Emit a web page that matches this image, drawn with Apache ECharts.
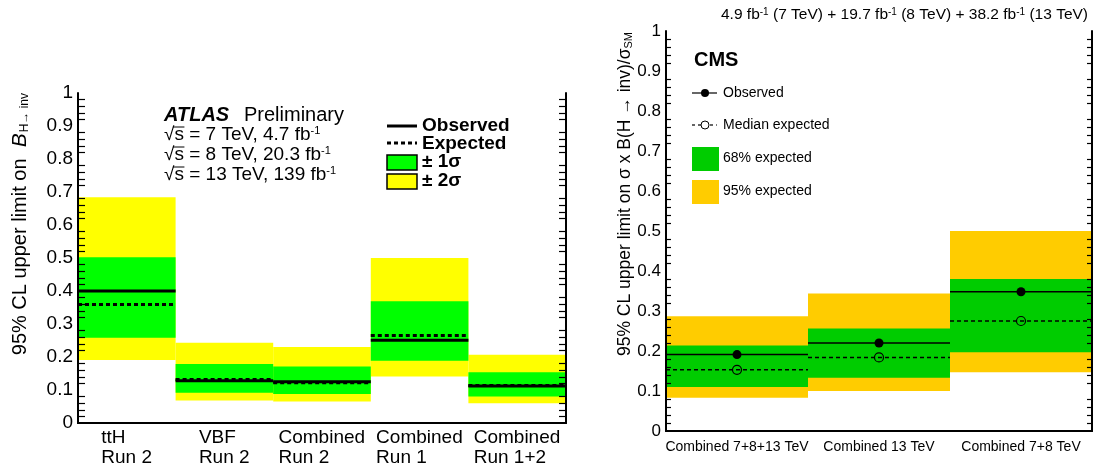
<!DOCTYPE html>
<html>
<head>
<meta charset="utf-8">
<script src="https://cdn.jsdelivr.net/npm/echarts@6/dist/echarts.min.js"></script>
<style>
  html, body { margin: 0; padding: 0; background: #fff; }
  #chart { width: 1094px; height: 470px; }
</style>
</head>
<body>
<div id="chart"></div>
<script>
// ATLAS panel (left)
var atlasCats = ['ttH\nRun 2', 'VBF\nRun 2', 'Combined\nRun 2', 'Combined\nRun 1', 'Combined\nRun 1+2'];
var atlasObs = [0.400, 0.128, 0.125, 0.251, 0.112];
var atlasExp = [0.359, 0.132, 0.122, 0.265, 0.114];
var atlas1sLo = [0.258, 0.092, 0.088, 0.189, 0.080];
var atlas1sHi = [0.502, 0.179, 0.171, 0.369, 0.154];
var atlas2sLo = [0.191, 0.068, 0.065, 0.141, 0.060];
var atlas2sHi = [0.684, 0.243, 0.230, 0.500, 0.207];

// CMS panel (right)
var cmsCats = ['Combined 7+8+13 TeV', 'Combined 13 TeV', 'Combined 7+8 TeV'];
var cmsObs = [0.191, 0.220, 0.348];
var cmsExp = [0.153, 0.184, 0.275];
var cms1sLo = [0.110, 0.133, 0.197];
var cms1sHi = [0.214, 0.256, 0.380];
var cms2sLo = [0.083, 0.100, 0.147];
var cms2sHi = [0.287, 0.344, 0.500];

var FONT = '"Liberation Sans", Arial, Helvetica, sans-serif';

function bands(lo, hi) {
  return lo.map(function (v, i) { return [i, v, hi[i]]; });
}
function points(vals) {
  return vals.map(function (v, i) { return [i, v]; });
}

// rectangle spanning the whole bin
function renderBand(params, api) {
  var x = api.value(0);
  var lo = api.coord([x, api.value(1)]);
  var hi = api.coord([x, api.value(2)]);
  var w = api.size([1, 0])[0];
  return {
    type: 'rect',
    shape: { x: lo[0] - w / 2, y: hi[1], width: w, height: lo[1] - hi[1] },
    style: { fill: api.visual('color') }
  };
}

// horizontal line across the bin, optional marker in the middle
function lineRenderer(width, dash, marker) {
  return function (params, api) {
    var p = api.coord([api.value(0), api.value(1)]);
    var w = api.size([1, 0])[0];
    var kids = [{
      type: 'line',
      shape: { x1: p[0] - w / 2, y1: p[1], x2: p[0] + w / 2, y2: p[1] },
      style: { stroke: '#000', lineWidth: width, lineDash: dash }
    }];
    if (marker === 'filled') {
      kids.push({ type: 'circle', shape: { cx: p[0], cy: p[1], r: 4.5 }, style: { fill: '#000' } });
    } else if (marker === 'open') {
      kids.push({ type: 'circle', shape: { cx: p[0], cy: p[1], r: 4.5 }, style: { fill: 'none', stroke: '#000', lineWidth: 1.2 } });
    }
    return { type: 'group', children: kids };
  };
}

// left-align lines inside each ATLAS label block
var ctx = document.createElement('canvas').getContext('2d');
ctx.font = '19px ' + FONT;
var atlasRich = {};
atlasCats.forEach(function (c, i) {
  var w = Math.max.apply(null, c.split('\n').map(function (l) { return ctx.measureText(l).width; }));
  atlasRich['c' + i] = { width: Math.ceil(w), align: 'left', fontSize: 19, lineHeight: 20, fontFamily: FONT, color: '#000' };
});
// overline for the sqrt sign
var sqrtW = ctx.measureText('\u221A').width;
var sW = ctx.measureText('s').width;

function yAxisCfg(grid, pos, showLabel, majorLen, minorLen, fs) {
  return {
    gridIndex: grid, type: 'value', position: pos, min: 0, max: 1, interval: 0.1, z: 10,
    axisLine: { show: true, lineStyle: { color: '#000', width: 2 } },
    axisTick: { inside: true, length: majorLen, lineStyle: { color: '#000', width: 1.5 } },
    minorTick: { show: true, splitNumber: 5, length: minorLen, lineStyle: { color: '#000', width: 1.2 } },
    axisLabel: { show: showLabel, fontSize: fs, fontFamily: FONT, color: '#000', margin: 5 },
    splitLine: { show: false }
  };
}

var sqrtLines = [135, 155, 175].map(function (y) {
  return { type: 'line', z: 10, shape: { x1: 164 + sqrtW - 1.5, y1: y - 8, x2: 164 + sqrtW + sW + 0.5, y2: y - 8 },
    style: { stroke: '#000', lineWidth: 1 } };
});

var option = {
  animation: false,
  grid: [
    { left: 78, top: 93, width: 488, height: 330 },
    { left: 666, top: 31, width: 426, height: 400 }
  ],
  xAxis: [
    {
      gridIndex: 0, type: 'category', data: atlasCats, position: 'bottom', z: 10,
      axisLine: { lineStyle: { color: '#000', width: 2 } },
      axisTick: { inside: true, length: 9, lineStyle: { color: '#000', width: 1.5 } },
      axisLabel: {
        interval: 0, margin: 5, color: '#000',
        formatter: function (v, i) {
          return v.split('\n').map(function (l) { return '{c' + i + '|' + l + '}'; }).join('\n');
        },
        rich: atlasRich
      }
    },
    {
      gridIndex: 0, type: 'category', data: atlasCats, position: 'top', z: 10,
      axisLine: { lineStyle: { color: '#000', width: 2 } },
      axisTick: { inside: true, length: 9, lineStyle: { color: '#000', width: 1.5 } },
      axisLabel: { show: false }
    },
    {
      gridIndex: 1, type: 'category', data: cmsCats, position: 'bottom', z: 10,
      axisLine: { lineStyle: { color: '#000', width: 2 } },
      axisTick: { inside: true, length: 10, lineStyle: { color: '#000', width: 1.5 } },
      axisLabel: { interval: 0, margin: 9, fontSize: 14, fontFamily: FONT, color: '#000' }
    },
    {
      gridIndex: 1, type: 'category', data: cmsCats, position: 'top', z: 10,
      axisLine: { lineStyle: { color: '#000', width: 2 } },
      axisTick: { inside: true, length: 10, lineStyle: { color: '#000', width: 1.5 } },
      axisLabel: { show: false }
    }
  ],
  yAxis: [
    yAxisCfg(0, 'left', true, 13, 7, 19),
    yAxisCfg(0, 'right', false, 13, 7, 19),
    yAxisCfg(1, 'left', true, 10, 5, 17),
    yAxisCfg(1, 'right', false, 10, 5, 17)
  ],
  series: [
    { type: 'custom', xAxisIndex: 0, yAxisIndex: 0, renderItem: renderBand, itemStyle: { color: '#ffff00' },
      encode: { x: 0, y: [1, 2] }, data: bands(atlas2sLo, atlas2sHi), z: 1 },
    { type: 'custom', xAxisIndex: 0, yAxisIndex: 0, renderItem: renderBand, itemStyle: { color: '#00ff00' },
      encode: { x: 0, y: [1, 2] }, data: bands(atlas1sLo, atlas1sHi), z: 2 },
    { type: 'custom', xAxisIndex: 0, yAxisIndex: 0, renderItem: lineRenderer(3, [4, 3]),
      encode: { x: 0, y: 1 }, data: points(atlasExp), z: 3 },
    { type: 'custom', xAxisIndex: 0, yAxisIndex: 0, renderItem: lineRenderer(3, null),
      encode: { x: 0, y: 1 }, data: points(atlasObs), z: 4 },

    { type: 'custom', xAxisIndex: 2, yAxisIndex: 2, renderItem: renderBand, itemStyle: { color: '#ffcc00' },
      encode: { x: 0, y: [1, 2] }, data: bands(cms2sLo, cms2sHi), z: 1 },
    { type: 'custom', xAxisIndex: 2, yAxisIndex: 2, renderItem: renderBand, itemStyle: { color: '#00cc00' },
      encode: { x: 0, y: [1, 2] }, data: bands(cms1sLo, cms1sHi), z: 2 },
    { type: 'custom', xAxisIndex: 2, yAxisIndex: 2, renderItem: lineRenderer(1.5, [4, 3], 'open'),
      encode: { x: 0, y: 1 }, data: points(cmsExp), z: 3 },
    { type: 'custom', xAxisIndex: 2, yAxisIndex: 2, renderItem: lineRenderer(1.5, null, 'filled'),
      encode: { x: 0, y: 1 }, data: points(cmsObs), z: 4 }
  ],
  graphic: sqrtLines.concat([
    // ---- left y title
    { type: 'text', x: 20, y: 93, rotation: Math.PI / 2, z: 10,
      style: { text: '95% CL upper limit on  {b|B}{s|H\u2192 inv}', align: 'right', verticalAlign: 'middle',
        font: '20px ' + FONT, fill: '#000',
        rich: { b: { fontSize: 21, fontStyle: 'italic', fontFamily: FONT }, s: { fontSize: 12, verticalAlign: 'bottom', fontFamily: FONT, padding: [9, 0, 0, 1] } } } },
    // ---- ATLAS label
    { type: 'text', x: 164, y: 115, z: 10, style: { text: 'ATLAS', font: 'italic bold 20px ' + FONT, fill: '#000', verticalAlign: 'middle' } },
    { type: 'text', x: 244, y: 115, z: 10, style: { text: 'Preliminary', font: '20px ' + FONT, fill: '#000', verticalAlign: 'middle' } },
    { type: 'text', x: 164, y: 135, z: 10, style: { text: '\u221As = 7 TeV, 4.7 fb{u|-1}', font: '19px ' + FONT, fill: '#000', verticalAlign: 'middle',
      rich: { u: { fontSize: 11, verticalAlign: 'top', fontFamily: FONT } } } },
    { type: 'text', x: 164, y: 155, z: 10, style: { text: '\u221As = 8 TeV, 20.3 fb{u|-1}', font: '19px ' + FONT, fill: '#000', verticalAlign: 'middle',
      rich: { u: { fontSize: 11, verticalAlign: 'top', fontFamily: FONT } } } },
    { type: 'text', x: 164, y: 175, z: 10, style: { text: '\u221As = 13 TeV, 139 fb{u|-1}', font: '19px ' + FONT, fill: '#000', verticalAlign: 'middle',
      rich: { u: { fontSize: 11, verticalAlign: 'top', fontFamily: FONT } } } },
    // ---- ATLAS legend
    { type: 'line', z: 10, shape: { x1: 387, y1: 126, x2: 417, y2: 126 }, style: { stroke: '#000', lineWidth: 3 } },
    { type: 'line', z: 10, shape: { x1: 387, y1: 143, x2: 417, y2: 143 }, style: { stroke: '#000', lineWidth: 3, lineDash: [4, 3] } },
    { type: 'rect', z: 10, shape: { x: 387, y: 155, width: 30, height: 15 }, style: { fill: '#00ff00', stroke: '#000', lineWidth: 1.5 } },
    { type: 'rect', z: 10, shape: { x: 387, y: 174, width: 30, height: 15 }, style: { fill: '#ffff00', stroke: '#000', lineWidth: 1.5 } },
    { type: 'text', x: 422, y: 126, z: 10, style: { text: 'Observed', font: 'bold 19px ' + FONT, fill: '#000', verticalAlign: 'middle' } },
    { type: 'text', x: 422, y: 144, z: 10, style: { text: 'Expected', font: 'bold 19px ' + FONT, fill: '#000', verticalAlign: 'middle' } },
    { type: 'text', x: 422, y: 162, z: 10, style: { text: '\u00B1 1\u03C3', font: 'bold 19px ' + FONT, fill: '#000', verticalAlign: 'middle' } },
    { type: 'text', x: 422, y: 181, z: 10, style: { text: '\u00B1 2\u03C3', font: 'bold 19px ' + FONT, fill: '#000', verticalAlign: 'middle' } },

    // ---- right title (lumi)
    { type: 'text', x: 1088, y: 15, z: 10,
      style: { text: '4.9 fb{u|-1} (7 TeV) + 19.7 fb{u|-1} (8 TeV) + 38.2 fb{u|-1} (13 TeV)', align: 'right', verticalAlign: 'middle',
        font: '15.5px ' + FONT, fill: '#000', rich: { u: { fontSize: 10, verticalAlign: 'top', fontFamily: FONT } } } },
    // ---- right y title
    { type: 'text', x: 625, y: 32, rotation: Math.PI / 2, z: 10,
      style: { text: '95% CL upper limit on \u03C3 x B(H \u2192 inv)/\u03C3{s|SM}', align: 'right', verticalAlign: 'middle',
        font: '17.5px ' + FONT, fill: '#000', rich: { s: { fontSize: 11, verticalAlign: 'bottom', fontFamily: FONT, padding: [7, 0, 0, 0] } } } },
    // ---- CMS label + legend
    { type: 'text', x: 694, y: 60, z: 10, style: { text: 'CMS', font: 'bold 20px ' + FONT, fill: '#000', verticalAlign: 'middle' } },
    { type: 'line', z: 10, shape: { x1: 692, y1: 93, x2: 717, y2: 93 }, style: { stroke: '#000', lineWidth: 1.2 } },
    { type: 'circle', z: 10, shape: { cx: 705, cy: 93, r: 4 }, style: { fill: '#000' } },
    { type: 'line', z: 10, shape: { x1: 692, y1: 125, x2: 717, y2: 125 }, style: { stroke: '#000', lineWidth: 1.2, lineDash: [3, 3] } },
    { type: 'circle', z: 11, shape: { cx: 705, cy: 125, r: 4 }, style: { fill: '#fff', stroke: '#000', lineWidth: 1 } },
    { type: 'rect', z: 10, shape: { x: 692, y: 147, width: 27, height: 24 }, style: { fill: '#00cc00' } },
    { type: 'rect', z: 10, shape: { x: 692, y: 180, width: 27, height: 24 }, style: { fill: '#ffcc00' } },
    { type: 'text', x: 723, y: 93, z: 10, style: { text: 'Observed', font: '14px ' + FONT, fill: '#000', verticalAlign: 'middle' } },
    { type: 'text', x: 723, y: 125, z: 10, style: { text: 'Median expected', font: '14px ' + FONT, fill: '#000', verticalAlign: 'middle' } },
    { type: 'text', x: 723, y: 158, z: 10, style: { text: '68% expected', font: '14px ' + FONT, fill: '#000', verticalAlign: 'middle' } },
    { type: 'text', x: 723, y: 191, z: 10, style: { text: '95% expected', font: '14px ' + FONT, fill: '#000', verticalAlign: 'middle' } }
  ])
};

var myChart = echarts.init(document.getElementById('chart'));
myChart.setOption(option);
</script>
</body>
</html>
